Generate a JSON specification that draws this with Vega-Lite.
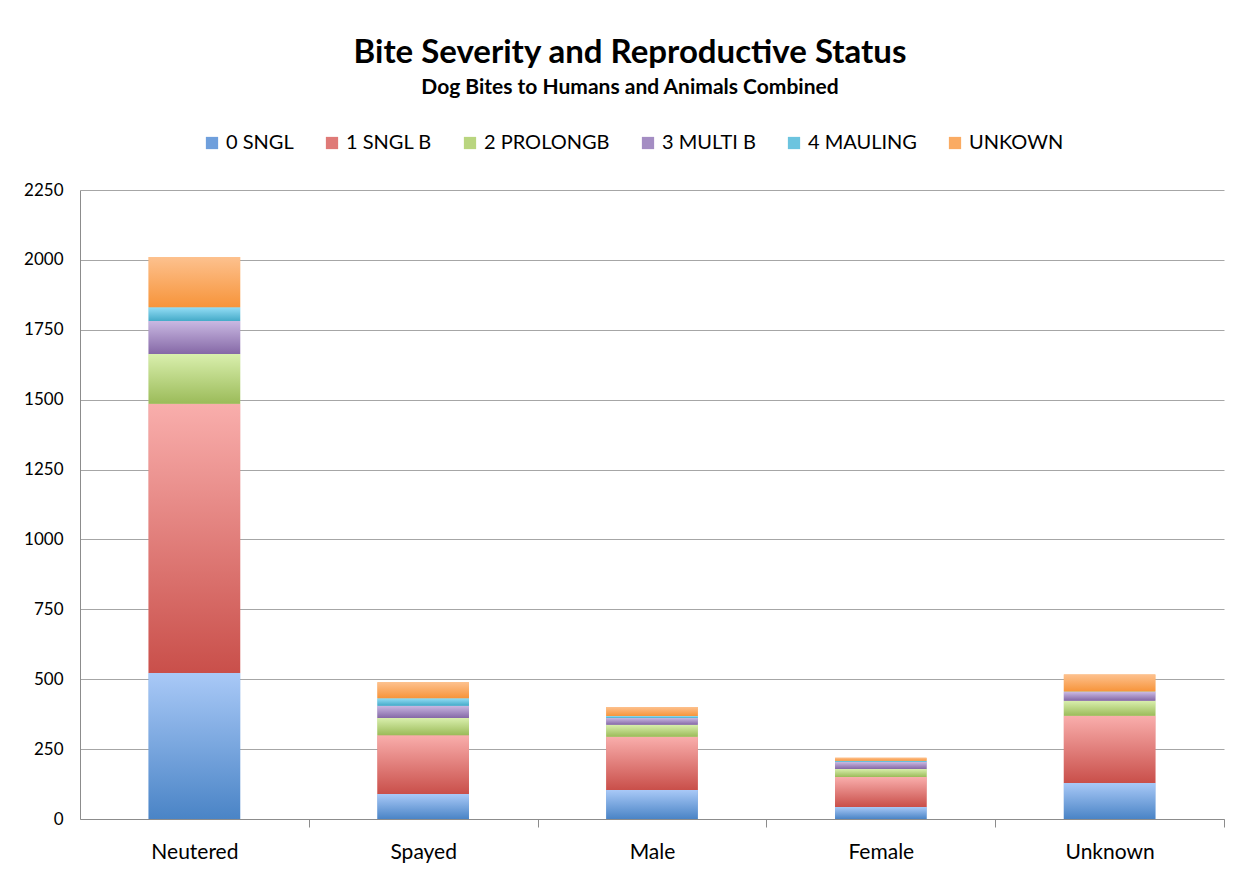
{
  "$schema": "https://vega.github.io/schema/vega-lite/v6.json",
  "width": 1144,
  "height": 629,
  "autosize": {"type": "none"},
  "padding": {"left": 80, "top": 190, "right": 25, "bottom": 55},
  "background": "white",
  "title": {
    "text": "Bite Severity and Reproductive Status",
    "subtitle": "Dog Bites to Humans and Animals Combined",
    "anchor": "middle",
    "frame": "group",
    "dx": -22,
    "offset": 35,
    "font": "Lato",
    "fontSize": 33,
    "fontWeight": "bold",
    "color": "black",
    "subtitleFont": "Lato",
    "subtitleFontSize": 21,
    "subtitleFontWeight": "bold",
    "subtitleColor": "black",
    "subtitlePadding": 7
  },
  "data": {
    "values": [
      {"status": "Neutered", "severity": "0 SNGL", "count": 522},
      {"status": "Neutered", "severity": "1 SNGL B", "count": 963},
      {"status": "Neutered", "severity": "2 PROLONGB", "count": 178},
      {"status": "Neutered", "severity": "3 MULTI B", "count": 118},
      {"status": "Neutered", "severity": "4 MAULING", "count": 50},
      {"status": "Neutered", "severity": "UNKOWN", "count": 179},
      {"status": "Spayed", "severity": "0 SNGL", "count": 89},
      {"status": "Spayed", "severity": "1 SNGL B", "count": 211},
      {"status": "Spayed", "severity": "2 PROLONGB", "count": 61},
      {"status": "Spayed", "severity": "3 MULTI B", "count": 44},
      {"status": "Spayed", "severity": "4 MAULING", "count": 27},
      {"status": "Spayed", "severity": "UNKOWN", "count": 57},
      {"status": "Male", "severity": "0 SNGL", "count": 104},
      {"status": "Male", "severity": "1 SNGL B", "count": 190},
      {"status": "Male", "severity": "2 PROLONGB", "count": 43},
      {"status": "Male", "severity": "3 MULTI B", "count": 24},
      {"status": "Male", "severity": "4 MAULING", "count": 7},
      {"status": "Male", "severity": "UNKOWN", "count": 33},
      {"status": "Female", "severity": "0 SNGL", "count": 43},
      {"status": "Female", "severity": "1 SNGL B", "count": 107},
      {"status": "Female", "severity": "2 PROLONGB", "count": 29},
      {"status": "Female", "severity": "3 MULTI B", "count": 25},
      {"status": "Female", "severity": "4 MAULING", "count": 4},
      {"status": "Female", "severity": "UNKOWN", "count": 11},
      {"status": "Unknown", "severity": "0 SNGL", "count": 129},
      {"status": "Unknown", "severity": "1 SNGL B", "count": 240},
      {"status": "Unknown", "severity": "2 PROLONGB", "count": 54},
      {"status": "Unknown", "severity": "3 MULTI B", "count": 31},
      {"status": "Unknown", "severity": "4 MAULING", "count": 2},
      {"status": "Unknown", "severity": "UNKOWN", "count": 61}
    ]
  },
  "transform": [
    {"stack": "count", "groupby": ["status"], "sort": [{"field": "severity", "order": "ascending"}], "as": ["y0", "y1"]}
  ],
  "encoding": {
    "x": {
      "field": "status",
      "type": "nominal",
      "sort": ["Neutered", "Spayed", "Male", "Female", "Unknown"],
      "scale": {"paddingInner": 0.6, "paddingOuter": 0.3},
      "axis": {
        "title": null,
        "labelAngle": 0,
        "labelFont": "Lato",
        "labelFontSize": 21,
        "labelColor": "black",
        "labelPadding": 14,
        "tickOffset": 114.4,
        "labelOffset": -114.4,
        "tickSize": 8,
        "tickColor": "#8c8c8c",
        "domainColor": "#8c8c8c",
        "grid": false
      }
    },
    "y": {
      "field": "y0",
      "type": "quantitative",
      "scale": {"domain": [0, 2250], "nice": false},
      "axis": {
        "title": null,
        "values": [0, 250, 500, 750, 1000, 1250, 1500, 1750, 2000, 2250],
        "format": "d",
        "labelFont": "Lato",
        "labelFontSize": 17,
        "labelColor": "black",
        "labelPadding": 17,
        "ticks": false,
        "domainColor": "#8c8c8c",
        "gridColor": "#a6a6a6",
        "gridWidth": 1
      }
    },
    "y2": {"field": "y1"}
  },
  "layer": [
    {
      "mark": {"type": "bar"},
      "encoding": {
        "color": {
          "field": "severity",
          "type": "nominal",
          "scale": {
            "domain": ["0 SNGL", "1 SNGL B", "2 PROLONGB", "3 MULTI B", "4 MAULING", "UNKOWN"],
            "range": ["#6f9fdc", "#df7a77", "#b9d57f", "#a48dc3", "#6cc4df", "#faab63"]
          },
          "legend": {
            "title": null,
            "orient": "none",
            "direction": "horizontal",
            "legendX": 122,
            "legendY": -57,
            "symbolType": "square",
            "symbolSize": 150,
            "symbolStrokeWidth": 0,
            "symbolOpacity": 1,
            "labelFont": "Lato",
            "labelFontSize": 20,
            "labelColor": "black",
            "labelOffset": 4,
            "columnPadding": 28
          }
        }
      }
    },
    {
      "transform": [{"filter": "datum.severity === '0 SNGL'"}],
      "mark": {"type": "bar", "color": {"gradient": "linear", "x1": 0, "y1": 0, "x2": 0, "y2": 1, "stops": [{"offset": 0, "color": "#a9c9f7"}, {"offset": 1, "color": "#4a84c6"}]}}
    },
    {
      "transform": [{"filter": "datum.severity === '1 SNGL B'"}],
      "mark": {"type": "bar", "color": {"gradient": "linear", "x1": 0, "y1": 0, "x2": 0, "y2": 1, "stops": [{"offset": 0, "color": "#f9aeac"}, {"offset": 1, "color": "#c94f4a"}]}}
    },
    {
      "transform": [{"filter": "datum.severity === '2 PROLONGB'"}],
      "mark": {"type": "bar", "color": {"gradient": "linear", "x1": 0, "y1": 0, "x2": 0, "y2": 1, "stops": [{"offset": 0, "color": "#d9efad"}, {"offset": 1, "color": "#9bbb59"}]}}
    },
    {
      "transform": [{"filter": "datum.severity === '3 MULTI B'"}],
      "mark": {"type": "bar", "color": {"gradient": "linear", "x1": 0, "y1": 0, "x2": 0, "y2": 1, "stops": [{"offset": 0, "color": "#c9b8e2"}, {"offset": 1, "color": "#8568a6"}]}}
    },
    {
      "transform": [{"filter": "datum.severity === '4 MAULING'"}],
      "mark": {"type": "bar", "color": {"gradient": "linear", "x1": 0, "y1": 0, "x2": 0, "y2": 1, "stops": [{"offset": 0, "color": "#95def6"}, {"offset": 1, "color": "#44aac8"}]}}
    },
    {
      "transform": [{"filter": "datum.severity === 'UNKOWN'"}],
      "mark": {"type": "bar", "color": {"gradient": "linear", "x1": 0, "y1": 0, "x2": 0, "y2": 1, "stops": [{"offset": 0, "color": "#fdc18e"}, {"offset": 1, "color": "#f7943a"}]}}
    }
  ],
  "config": {
    "view": {"stroke": null},
    "bar": {"stroke": null}
  }
}
